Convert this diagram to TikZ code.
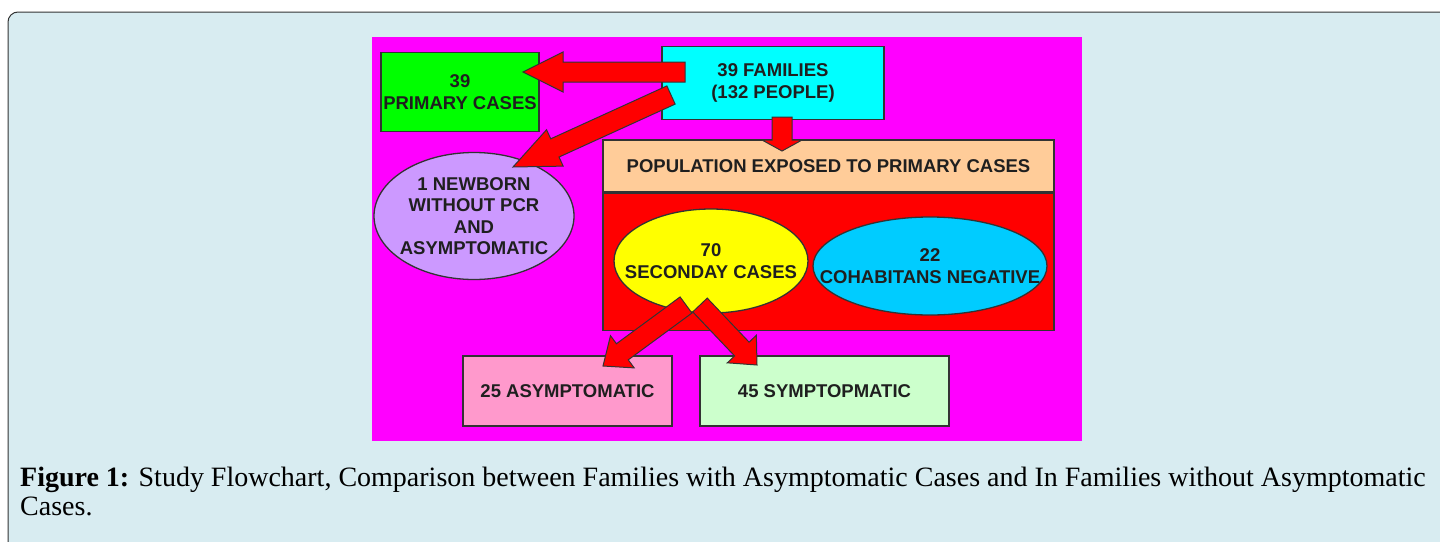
\documentclass[tikz,border=0pt]{standalone}
\usepackage{fontspec}
\setmainfont{Liberation Serif}
\newfontfamily\boxfont{Liberation Sans}
\usepackage{xcolor}
\usetikzlibrary{shapes.geometric, arrows.meta, positioning, calc}

\definecolor{panelblue}{HTML}{D8ECF1}
\definecolor{chartmagenta}{HTML}{FF00FF}
\definecolor{primarygreen}{HTML}{00FF00}
\definecolor{familycyan}{HTML}{00FFFF}
\definecolor{exposedpeach}{HTML}{FFCC99}
\definecolor{secondyellow}{HTML}{FFFF00}
\definecolor{negativeblue}{HTML}{00CCFF}
\definecolor{newbornlilac}{HTML}{CC99FF}
\definecolor{asympink}{HTML}{FF99CC}
\definecolor{sympgreen}{HTML}{CCFFCC}
\definecolor{outline}{HTML}{333333}

\tikzset{
  flowtext/.style={
    align=center, inner sep=0pt,
    font=\boxfont\fontsize{18.5}{21.5}\selectfont\bfseries, text=black!88
  },
  flowbox/.style={
    flowtext, draw=outline, line width=1.3pt
  },
  flowoval/.style={
    draw=outline, line width=1.3pt, ellipse, inner sep=0pt
  },
  arrowfill/.style={
    fill=red, draw=black!80, line width=1pt, line join=miter
  },
}

% block arrow: [style] {from} {to} {head length}
\newcommand{\blockarrow}[4][]{%
  \coordinate (ha) at ($(#3)!#4!(#2)$);
  \filldraw[arrowfill,#1]
    ($(#2)!10pt!90:(#3)$) -- ($(ha)!10pt!90:(#3)$) --
    ($(ha)!20pt!90:(#3)$) -- (#3) -- ($(ha)!20pt!-90:(#3)$) --
    ($(ha)!10pt!-90:(#3)$) -- ($(#2)!10pt!-90:(#3)$) -- cycle;
}

\begin{document}
\begin{tikzpicture}[x=1pt, y=-1pt]
  \useasboundingbox (0,0) rectangle (1440,541);
  \clip (0,0) rectangle (1440,541);

  % Panel
  \filldraw[fill=panelblue, draw=black!80, line width=1pt, rounded corners=10pt]
    (8,12) rectangle (1450,560);

  % Chart background
  \fill[chartmagenta] (372,37) rectangle (1082,441);

  % Top row
  \node[flowbox, fill=primarygreen, minimum width=158pt, minimum height=79pt]
    (primary) at (460,92) {39\\PRIMARY CASES};
  \node[flowbox, fill=familycyan, minimum width=222pt, minimum height=73pt]
    (families) at (773,83) {39 FAMILIES\\(132 PEOPLE)};

  % Newborn
  \node[flowoval, fill=newbornlilac, minimum width=200pt, minimum height=127pt,
    label={[flowtext]center:1 NEWBORN\\WITHOUT PCR\\AND\\ASYMPTOMATIC}]
    (newborn) at (474,216) {};

  % Exposed population
  \node[flowbox, fill=exposedpeach, minimum width=451pt, minimum height=52pt]
    (exposed) at (828.5,166) {POPULATION EXPOSED TO PRIMARY CASES};
  \node[flowbox, fill=red, minimum width=451pt, minimum height=137pt,
    below=0pt of exposed] (household) {};
  \node[flowoval, fill=secondyellow, minimum width=194pt, minimum height=104pt,
    label={[flowtext]center:70\\SECONDAY CASES}]
    (secondary) at (711,261) {};
  \node[flowoval, fill=negativeblue, minimum width=234pt, minimum height=98pt,
    label={[flowtext]center:22\\COHABITANS NEGATIVE}]
    (negative) at (930,266) {};

  % Bottom row
  \node[flowbox, fill=asympink, minimum width=209pt, minimum height=70pt]
    (asymp) at (567.5,391) {25 ASYMPTOMATIC};
  \node[flowbox, fill=sympgreen, minimum width=249pt, minimum height=70pt]
    (symp) at (824.5,391) {45 SYMPTOPMATIC};

  % Arrow ends
  \coordinate (famA) at (685,72);
  \coordinate (primTip) at (523,72);
  \coordinate (famB) at (671,95);
  \coordinate (newTip) at (513,167);
  \coordinate (famC) at (782,117);
  \coordinate (expTip) at (782,151);
  \coordinate (secA) at (686,305);
  \coordinate (asyTip) at (603,366);
  \coordinate (secB) at (700,305);
  \coordinate (symTip) at (757,365);

  % Arrows
  \blockarrow{famA}{primTip}{40pt}
  \blockarrow{famB}{newTip}{46pt}
  \blockarrow{famC}{expTip}{11pt}
  \blockarrow{secA}{asyTip}{24pt}
  \blockarrow{secB}{symTip}{22pt}

  % Caption
  \node[anchor=base west, inner sep=0pt, align=left,
    font=\fontsize{28}{29}\selectfont] (caption) at (20,515)
    {\textbf{Figure 1:} Study Flowchart, Comparison between Families with
     Asymptomatic Cases and In Families without Asymptomatic\\Cases.};
\end{tikzpicture}
\end{document}
